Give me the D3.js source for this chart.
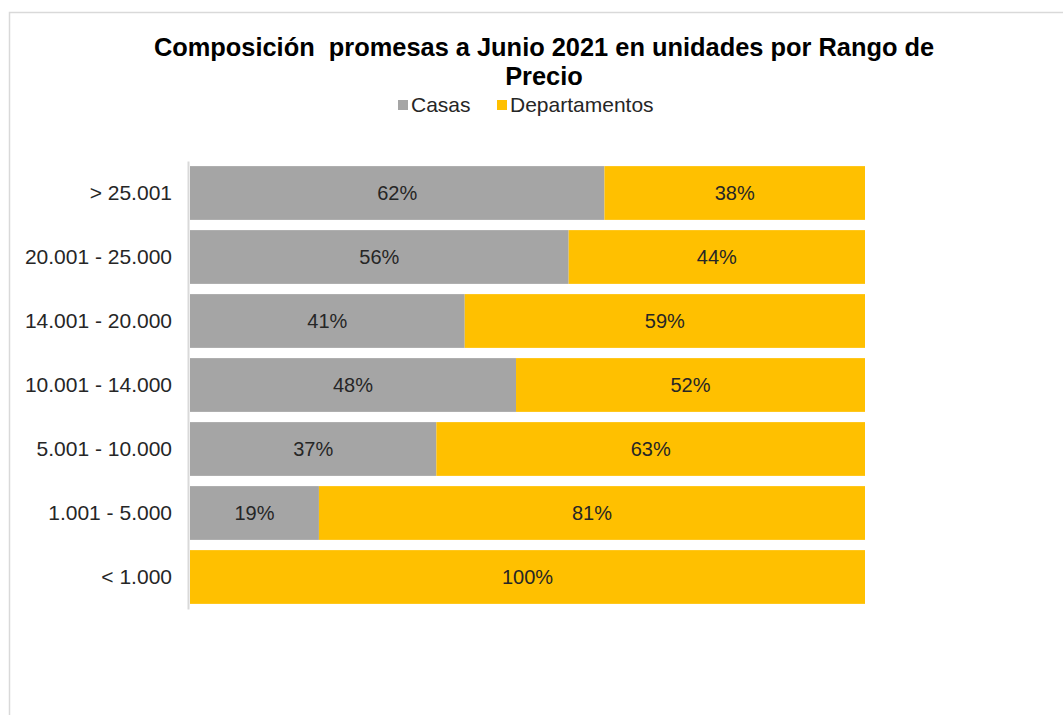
<!DOCTYPE html>
<html>
<head>
<meta charset="utf-8">
<script src="https://cdn.jsdelivr.net/npm/d3@7"></script>
<style>
html,body{margin:0;padding:0;background:#fff;}
svg{display:block;font-family:"Liberation Sans",Arial,sans-serif;}
.title{white-space:pre;}
</style>
</head>
<body>
<svg id="chart" width="1063" height="715"></svg>
<script>
const categories = ["> 25.001","20.001 - 25.000","14.001 - 20.000","10.001 - 14.000","5.001 - 10.000","1.001 - 5.000","< 1.000"];
const casas = [61.4, 56.1, 40.7, 48.3, 36.5, 19.1, 0];
const departamentos = [38.6, 43.9, 59.3, 51.7, 63.5, 80.9, 100];
const casasLabels = ["62%","56%","41%","48%","37%","19%",""];
const deptoLabels = ["38%","44%","59%","52%","63%","81%","100%"];
const seriesNames = ["Casas","Departamentos"];
const colors = ["#A5A5A5","#FFC000"];
const titleLines = ["Composición  promesas a Junio 2021 en unidades por Rango de","Precio"];

const svg = d3.select("#chart");

// outer chart border
svg.append("rect").attr("x",9.5).attr("y",12.5).attr("width",1200).attr("height",900)
  .attr("fill","none").attr("stroke","#d9d9d9").attr("stroke-width",1.5);

const x = d3.scaleLinear().domain([0,100]).range([190,865]);
const y = d3.scaleBand().domain(categories).range([161,609]).paddingInner(0.16).paddingOuter(0.08);

// title
svg.append("g").selectAll("text").data(titleLines).join("text")
  .attr("class","title")
  .attr("x",544).attr("y",(d,i)=>56+i*29)
  .attr("text-anchor","middle").attr("font-size",25.4).attr("font-weight","bold").attr("fill","#000")
  .text(d=>d);

// legend
const legendItems = [{name:seriesNames[0],color:colors[0],x:398},{name:seriesNames[1],color:colors[1],x:497}];
const lg = svg.append("g");
legendItems.forEach(it=>{
  lg.append("rect").attr("x",it.x).attr("y",100).attr("width",10).attr("height",10).attr("fill",it.color);
  lg.append("text").attr("x",it.x+13).attr("y",112).attr("font-size",21).attr("fill","#262626").text(it.name);
});

// stacked data
const rows = categories.map((c,i)=>({cat:c, casas:casas[i], departamentos:departamentos[i], cl:casasLabels[i], dl:deptoLabels[i]}));
const stack = d3.stack().keys(["casas","departamentos"])(rows);

const gBars = svg.append("g");
stack.forEach((layer,li)=>{
  gBars.append("g").attr("fill",colors[li]).selectAll("rect").data(layer).join("rect")
    .attr("x",d=>x(d[0])).attr("y",d=>y(d.data.cat))
    .attr("width",d=>Math.max(0,x(d[1])-x(d[0]))).attr("height",y.bandwidth());
  gBars.append("g").selectAll("text").data(layer.filter(d=>d[1]-d[0]>0)).join("text")
    .attr("x",d=>(x(d[0])+x(d[1]))/2).attr("y",d=>y(d.data.cat)+y.bandwidth()/2)
    .attr("dy","0.36em").attr("text-anchor","middle").attr("font-size",20).attr("fill","#262626")
    .text(d=> li===0 ? d.data.cl : d.data.dl);
});

// y axis
const yAxis = d3.axisLeft(y).tickSize(0).tickPadding(16);
const ga = svg.append("g").attr("transform","translate(188,0)").call(yAxis);
ga.select(".domain").attr("stroke","#d9d9d9").attr("stroke-width",2);
ga.selectAll("text").attr("font-size",21).attr("fill","#262626").attr("font-family","Liberation Sans, Arial, sans-serif");
</script>
</body>
</html>
